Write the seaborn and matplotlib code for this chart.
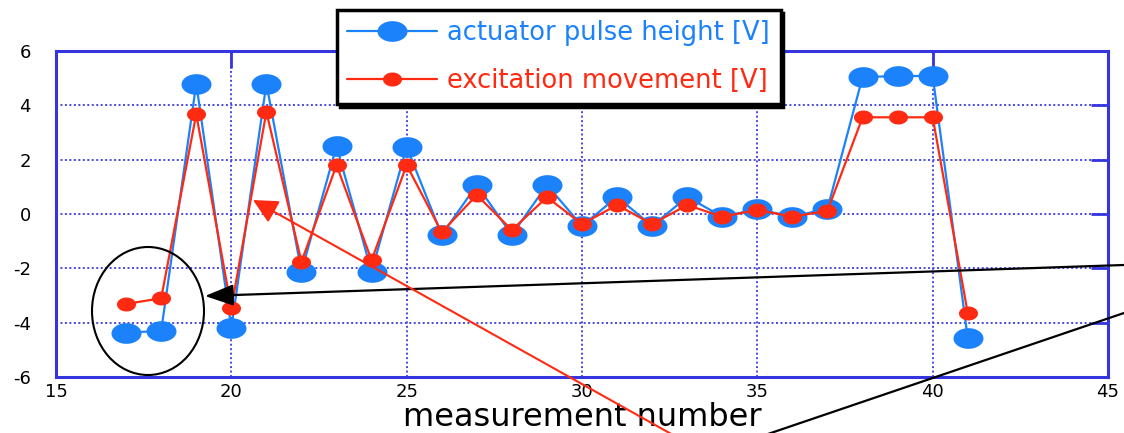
import numpy as np
import pandas as pd
import matplotlib
matplotlib.use("Agg")
import matplotlib.pyplot as plt
import seaborn as sns
from matplotlib.path import Path
from matplotlib.patches import Ellipse, FancyArrowPatch
from matplotlib.lines import Line2D

# ---- data ----
measurement = [17, 18, 19, 20, 21, 22, 23, 24, 25, 26, 27, 28, 29, 30, 31, 32, 33, 34, 35, 36, 37, 38, 39, 40, 41]
pulse_height = [-4.37, -4.3, 4.8, -4.2, 4.8, -2.12, 2.5, -2.12, 2.47, -0.77, 1.07, -0.77, 1.07, -0.44,
                0.63, -0.44, 0.63, -0.1, 0.18, -0.1, 0.2, 5.04, 5.08, 5.08, -4.57]
excitation = [-3.31, -3.1, 3.68, -3.46, 3.76, -1.76, 1.8, -1.7, 1.8, -0.67, 0.7, -0.59, 0.62, -0.37,
              0.33, -0.37, 0.33, -0.1, 0.15, -0.1, 0.12, 3.56, 3.56, 3.56, -3.65]
x_ticks = [15, 20, 25, 30, 35, 40, 45]
y_ticks = [-6, -4, -2, 0, 2, 4, 6]
label_pulse = "actuator pulse height [V]"
label_exc = "excitation movement [V]"
x_label = "measurement number"

df = pd.DataFrame({"n": measurement, "pulse": pulse_height, "exc": excitation})

sns.set_style("white")
plt.rcParams["font.family"] = ["DejaVu Sans"]
plt.rcParams["text.color"] = "black"
plt.rcParams["axes.labelcolor"] = "black"

BLUE = "#1c82fb"
RED = "#ff2a12"
FRAME = "#3535e0"

def ellipse_marker(aspect):
    t = np.linspace(0, 2 * np.pi, 64)
    v = np.column_stack([aspect * np.cos(t), np.sin(t)])
    return Path(v, closed=True)

fig = plt.figure(figsize=(11.24, 4.33), dpi=100)
ax = fig.add_axes([0.0498, 0.1293, 0.936, 0.7529])

sns.lineplot(data=df, x="n", y="pulse", ax=ax, color=BLUE, lw=2.4,
             marker=ellipse_marker(1.45), markersize=21.6, markeredgewidth=0,
             markerfacecolor=BLUE, label=label_pulse, zorder=3)
sns.lineplot(data=df, x="n", y="exc", ax=ax, color=RED, lw=2.6,
             marker=ellipse_marker(1.36), markersize=13.7, markeredgewidth=0,
             markerfacecolor=RED, label=label_exc, zorder=4)

ax.set_xlim(15, 45)
ax.set_ylim(-6, 6)
ax.set_xticks(x_ticks)
ax.set_yticks(y_ticks)
ax.set_xticklabels([str(v) for v in x_ticks])
ax.set_yticklabels([str(v) for v in y_ticks])
ax.grid(True, linestyle=(0, (1, 1.3)), color="#4848e2", lw=1.4)
for s in ax.spines.values():
    s.set_color(FRAME)
    s.set_linewidth(2.2)
ax.tick_params(axis="both", which="major", direction="in", length=12, width=2,
               color=FRAME, labelcolor="black", labelsize=13,
               top=True, right=True)
ax.tick_params(axis="x", pad=4)
ax.tick_params(axis="y", pad=18)
ax.set_xlabel(x_label, fontsize=23, labelpad=1, color="black")
ax.set_ylabel("")

handles, labels = ax.get_legend_handles_labels()
ax.get_legend().remove()
for h in handles:
    h.set_linewidth(1.6)
leg = fig.legend(handles, labels, loc="upper left",
                 bbox_to_anchor=(337 / 1124, 1 - 10 / 433), bbox_transform=fig.transFigure,
                 borderaxespad=0, frameon=True, fancybox=False,
                 shadow={"color": "black", "alpha": 1}, fontsize=18.5,
                 handlelength=3.5, labelspacing=0.85, labelcolor="linecolor",
                 borderpad=0.4, handletextpad=0.4)
leg.get_frame().set_edgecolor("black")
leg.get_frame().set_linewidth(2.5)
leg.set_zorder(10)

# ---- overlay annotations (figure pixel geometry) ----
W, H = 1124.0, 433.0
def fp(x, y):
    return (x / W, 1 - y / H)

ell = Ellipse(fp(148, 311), 112 / W, 128 / H, transform=fig.transFigure,
              fill=False, edgecolor="black", lw=1.5, zorder=20)
fig.add_artist(ell)

arr_black = FancyArrowPatch(fp(1124, 265), fp(205, 296), transform=fig.transFigure,
                            arrowstyle="-|>,head_length=1.6,head_width=0.6",
                            mutation_scale=11, color="black", lw=1.6, zorder=20,
                            shrinkA=0, shrinkB=0)
fig.add_artist(arr_black)

fig.add_artist(Line2D([1124 / W, 765 / W], [1 - 313 / H, 1 - 435 / H],
                      transform=fig.transFigure, color="black", lw=1.6, zorder=20))

arr_red = FancyArrowPatch(fp(682, 440), fp(253, 200), transform=fig.transFigure,
                          arrowstyle="-|>,head_length=1.5,head_width=0.75",
                          mutation_scale=10, color=RED, lw=1.5, zorder=20,
                          shrinkA=0, shrinkB=0)
fig.add_artist(arr_red)

fig.savefig("out.png", dpi=100)
